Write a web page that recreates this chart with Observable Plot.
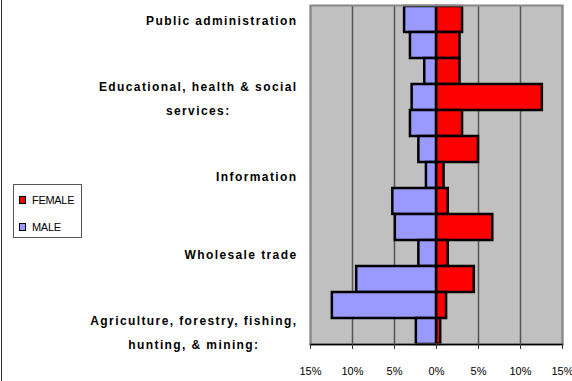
<!DOCTYPE html>
<html><head><meta charset="utf-8">
<script src="https://cdn.jsdelivr.net/npm/d3@7"></script>
<script src="https://cdn.jsdelivr.net/npm/@observablehq/plot@0.6"></script>
<style>
body{margin:0;background:#fff;}
#wrap{position:relative;width:572px;height:381px;overflow:hidden;font-family:"Liberation Sans",Arial,sans-serif;background:#fff;}
#edge{position:absolute;left:1px;top:0;width:1px;height:381px;background:#333;}
#legend{position:absolute;left:13px;top:184px;width:69px;height:54px;border:1px solid #555;background:#fff;font-size:11px;color:#000;box-sizing:border-box;}
#legend .item{position:absolute;left:5px;height:14px;display:flex;align-items:center;}
#legend .sw{width:5px;height:6px;border:1.5px solid #000;margin-right:6px;}
#legend .lbl{letter-spacing:-0.3px;}
</style></head>
<body><div id="wrap"><div id="edge"></div><div id="chart"></div><div id="legend"></div></div>
<script>
const industries = [
  "Public administration",
  "Other services",
  "Arts, entertainment, recreation, accommodation & food services",
  "Educational, health & social services:",
  "Professional, scientific, management & administrative",
  "Finance, insurance & real estate",
  "Information",
  "Transportation, warehousing & utilities",
  "Retail trade",
  "Wholesale trade",
  "Manufacturing",
  "Construction",
  "Agriculture, forestry, fishing, hunting, & mining:"
];
const female = [3.1, 2.8, 2.8, 12.6, 3.1, 5.0, 0.9, 1.4, 6.7, 1.4, 4.5, 1.2, 0.5];
const male   = [3.8, 3.1, 1.4, 2.9, 3.1, 2.1, 1.2, 5.2, 4.9, 2.1, 9.5, 12.4, 2.4];
const shownLabels = {
  "Public administration": "Public administration",
  "Educational, health & social services:": "Educational, health & social\nservices:",
  "Information": "Information",
  "Wholesale trade": "Wholesale trade",
  "Agriculture, forestry, fishing, hunting, & mining:": "Agriculture, forestry, fishing,\nhunting, & mining:"
};
const xTicks = [-15, -10, -5, 0, 5, 10, 15];
const seriesNames = ["FEMALE", "MALE"];
const seriesColors = ["#ff0000", "#9999ff"];

const rows = [];
industries.forEach((ind, i) => {
  rows.push({industry: ind, sex: "FEMALE", value: female[i]});
  rows.push({industry: ind, sex: "MALE", value: -male[i]});
});

const chart = Plot.plot({
  width: 572,
  height: 381,
  marginLeft: 310,
  marginRight: 10,
  marginTop: 5,
  marginBottom: 37,
  style: {fontFamily: "'Liberation Sans', Arial, sans-serif", background: "transparent"},
  x: {domain: [-15, 15], ticks: xTicks},
  y: {domain: industries, padding: 0},
  color: {domain: seriesNames, range: seriesColors},
  marks: [
    Plot.frame({fill: "#c0c0c0"}),
    Plot.gridX(xTicks, {stroke: "#555", strokeOpacity: 1, strokeWidth: 1.5}),
    Plot.barX(rows, {x1: 0, x2: "value", y: "industry", fill: "sex", stroke: "#000", strokeWidth: 2.5}),
    Plot.frame({stroke: "#888", strokeWidth: 2}),
    Plot.frame({anchor: "bottom", stroke: "#000", strokeWidth: 1.5}),
    Plot.axisX(xTicks, {tickFormat: d => Math.abs(d) + "%", tickSize: 5, tickPadding: 18, fontSize: 11, stroke: "#333", label: null}),
    Plot.axisY({tickSize: 0, tickPadding: 13, dy: -2, fontSize: 12, fontWeight: "bold", lineHeight: 1.95, tickFormat: d => shownLabels[d] ?? "", label: null})
  ]
});
document.getElementById("chart").appendChild(chart);

// letter spacing + centre multi-line label blocks
d3.select(chart).selectAll('g[aria-label="y-axis tick label"] text').each(function() {
  this.style.letterSpacing = "1.4px";
  const w = this.getBBox().width;
  this.setAttribute("text-anchor", "middle");
  const t = this.getAttribute("transform") || "";
  this.setAttribute("transform", t + ` translate(${-w / 2},0)`);
});

const legend = d3.select("#legend");
seriesNames.forEach((name, i) => {
  const item = legend.append("div").attr("class", "item").style("top", (8 + i * 27) + "px");
  item.append("div").attr("class", "sw").style("background", seriesColors[i]);
  item.append("span").attr("class", "lbl").text(name);
});
</script>
</body></html>
